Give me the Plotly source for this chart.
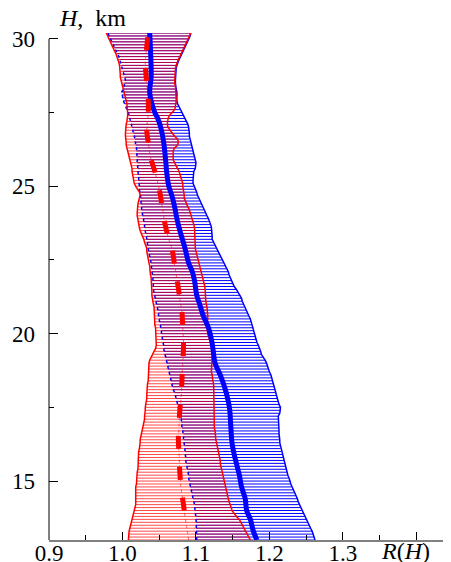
import numpy as np
import plotly.graph_objects as go

# Sampling heights of the hatch lines (km)
H = np.round(np.arange(13.0, 30.25, 0.1), 1)

# Red band: lower / upper bounds of R(H)
red_lo = [1.008,1.008,1.009,1.009,1.010,1.011,1.012,1.013,1.015,1.016,
          1.017,1.017,1.018,1.018,1.018,1.017,1.018,1.018,1.018,1.019,
          1.019,1.020,1.020,1.020,1.021,1.021,1.021,1.021,1.022,1.022,
          1.022,1.023,1.024,1.024,1.024,1.025,1.025,1.026,1.028,1.028,
          1.029,1.030,1.030,1.031,1.031,1.031,1.032,1.032,1.033,1.033,
          1.033,1.034,1.034,1.034,1.035,1.035,1.035,1.035,1.036,1.036,
          1.036,1.037,1.039,1.042,1.044,1.045,1.046,1.046,1.046,1.046,
          1.045,1.045,1.045,1.044,1.044,1.044,1.044,1.044,1.044,1.043,
          1.042,1.041,1.041,1.040,1.040,1.040,1.040,1.039,1.039,1.039,
          1.038,1.038,1.038,1.037,1.036,1.035,1.034,1.034,1.033,1.033,
          1.031,1.030,1.029,1.027,1.025,1.024,1.023,1.022,1.021,1.020,
          1.020,1.020,1.020,1.020,1.021,1.022,1.023,1.024,1.023,1.020,
          1.018,1.016,1.015,1.015,1.014,1.013,1.013,1.012,1.011,1.010,
          1.009,1.008,1.007,1.006,1.005,1.005,1.004,1.004,1.004,1.004,
          1.004,1.005,1.006,1.007,1.007,1.007,1.007,1.006,1.006,1.005,
          1.004,1.003,1.002,1.001,1.000,0.999,0.998,0.997,0.997,0.997,
          0.997,0.996,0.995,0.994,0.993,0.991,0.989,0.987,0.985,0.983,
          0.981,0.980,0.978]
red_hi = [1.174,1.172,1.170,1.168,1.166,1.164,1.162,1.159,1.155,1.152,
          1.149,1.148,1.146,1.145,1.144,1.143,1.142,1.141,1.140,1.139,
          1.138,1.137,1.136,1.135,1.135,1.134,1.133,1.133,1.132,1.131,
          1.130,1.129,1.129,1.128,1.127,1.127,1.126,1.126,1.125,1.125,
          1.125,1.124,1.124,1.124,1.124,1.124,1.124,1.124,1.124,1.125,
          1.125,1.125,1.125,1.124,1.123,1.123,1.122,1.121,1.121,1.121,
          1.121,1.122,1.122,1.123,1.123,1.123,1.122,1.120,1.118,1.117,
          1.116,1.115,1.115,1.115,1.116,1.116,1.116,1.116,1.115,1.115,
          1.114,1.113,1.113,1.113,1.113,1.113,1.112,1.111,1.110,1.109,
          1.108,1.107,1.106,1.105,1.103,1.102,1.101,1.100,1.099,1.099,
          1.099,1.099,1.099,1.099,1.099,1.099,1.098,1.097,1.096,1.094,
          1.093,1.092,1.091,1.089,1.087,1.085,1.084,1.084,1.083,1.083,
          1.082,1.082,1.081,1.080,1.079,1.077,1.075,1.073,1.071,1.069,
          1.069,1.069,1.069,1.071,1.075,1.076,1.075,1.071,1.068,1.065,
          1.062,1.061,1.061,1.062,1.064,1.067,1.071,1.072,1.073,1.073,
          1.073,1.073,1.072,1.072,1.072,1.071,1.071,1.071,1.071,1.071,
          1.072,1.073,1.074,1.076,1.078,1.080,1.082,1.084,1.086,1.088,
          1.090,1.091,1.093]

# Blue band: lower / upper bounds of R(H)
blue_lo = [1.101,1.101,1.101,1.100,1.100,1.100,1.100,1.100,1.100,1.099,
           1.099,1.098,1.098,1.097,1.096,1.095,1.094,1.093,1.092,1.091,
           1.091,1.090,1.090,1.089,1.088,1.088,1.087,1.086,1.086,1.085,
           1.085,1.085,1.084,1.084,1.083,1.083,1.083,1.082,1.081,1.081,
           1.080,1.080,1.079,1.078,1.077,1.076,1.075,1.074,1.073,1.072,
           1.071,1.069,1.068,1.067,1.066,1.065,1.064,1.063,1.062,1.061,
           1.060,1.059,1.058,1.057,1.057,1.056,1.056,1.055,1.055,1.054,
           1.053,1.053,1.052,1.051,1.051,1.050,1.049,1.049,1.048,1.047,
           1.046,1.045,1.044,1.043,1.043,1.042,1.042,1.042,1.041,1.041,
           1.041,1.040,1.040,1.039,1.039,1.038,1.037,1.036,1.035,1.035,
           1.034,1.034,1.033,1.033,1.032,1.031,1.030,1.030,1.029,1.028,
           1.027,1.027,1.026,1.026,1.025,1.025,1.025,1.024,1.024,1.023,
           1.023,1.022,1.022,1.022,1.021,1.021,1.021,1.020,1.020,1.020,
           1.020,1.019,1.019,1.019,1.018,1.018,1.017,1.016,1.015,1.014,
           1.013,1.012,1.011,1.010,1.009,1.008,1.006,1.005,1.003,1.001,
           1.000,0.999,0.999,1.001,1.002,1.003,1.004,1.003,1.002,1.001,
           1.000,0.999,0.998,0.997,0.995,0.993,0.991,0.989,0.987,0.985,
           0.983,0.981,0.980]
blue_hi = [1.262,1.261,1.259,1.258,1.256,1.254,1.252,1.250,1.248,1.246,
           1.244,1.242,1.240,1.239,1.238,1.236,1.234,1.232,1.230,1.229,
           1.228,1.226,1.225,1.224,1.223,1.222,1.221,1.220,1.219,1.217,
           1.216,1.215,1.215,1.214,1.214,1.213,1.213,1.213,1.213,1.213,
           1.212,1.212,1.212,1.214,1.215,1.215,1.213,1.212,1.211,1.210,
           1.209,1.208,1.207,1.206,1.204,1.203,1.202,1.200,1.199,1.198,
           1.196,1.194,1.191,1.189,1.188,1.187,1.185,1.183,1.182,1.181,
           1.180,1.179,1.178,1.176,1.175,1.174,1.172,1.170,1.168,1.166,
           1.165,1.163,1.162,1.160,1.157,1.155,1.152,1.150,1.148,1.146,
           1.145,1.144,1.142,1.140,1.138,1.136,1.134,1.132,1.130,1.128,
           1.126,1.123,1.122,1.122,1.122,1.122,1.121,1.120,1.119,1.117,
           1.115,1.113,1.111,1.109,1.107,1.105,1.104,1.102,1.101,1.099,
           1.097,1.096,1.096,1.096,1.097,1.097,1.099,1.100,1.100,1.099,
           1.098,1.097,1.096,1.095,1.094,1.092,1.091,1.091,1.091,1.091,
           1.090,1.089,1.087,1.085,1.083,1.081,1.078,1.076,1.075,1.074,
           1.074,1.075,1.074,1.073,1.072,1.072,1.072,1.072,1.072,1.073,
           1.073,1.074,1.075,1.077,1.079,1.081,1.083,1.085,1.087,1.089,
           1.091,1.092,1.093]

# Blue mean profile (thick solid line)
blue_mid_h = [13.0,13.3,13.7,14.0,14.4,14.8,15.2,15.5,15.9,16.3,16.6,17.0,17.4,17.7,
              18.1,18.6,19.0,19.5,19.8,20.2,20.6,21.0,21.3,21.8,22.1,22.4,22.9,23.5,
              23.9,24.3,24.7,25.0,25.5,25.8,26.5,27.0,27.3,27.5,27.8,28.2,28.7,29.0,
              29.7,30.2]
blue_mid = [1.183,1.178,1.174,1.169,1.167,1.162,1.159,1.156,1.152,1.149,1.148,1.147,
            1.146,1.144,1.140,1.133,1.126,1.123,1.121,1.117,1.110,1.105,1.101,1.098,
            1.095,1.090,1.085,1.078,1.074,1.071,1.067,1.063,1.060,1.059,1.056,1.052,
            1.048,1.044,1.040,1.037,1.039,1.039,1.038,1.037]

# Red mean profile (thick dashed line)
red_mid_h = [13.0,13.5,14.0,14.2,14.7,15.3,15.9,16.4,16.9,17.4,17.9,18.5,19.0,19.6,
             20.2,20.7,21.2,21.7,22.3,22.8,23.2,23.7,24.3,24.9,25.5,26.0,26.5,26.9,
             27.5,28.0,28.5,29.2,29.5,30.2]
red_mid = [1.090,1.087,1.084,1.083,1.080,1.078,1.077,1.076,1.077,1.078,1.080,1.081,
           1.082,1.083,1.082,1.081,1.078,1.075,1.071,1.068,1.063,1.058,1.054,1.050,
           1.044,1.038,1.035,1.033,1.035,1.035,1.033,1.031,1.032,1.035]

assert len(H) == len(red_lo) == len(red_hi) == len(blue_lo) == len(blue_hi)

xt_vals = [0.9, 1.0, 1.1, 1.2, 1.3, 1.4]
xt_text = ["0.9", "1.0", "1.1", "1.2", "1.3", ""]
yt_vals = [15, 20, 25, 30]
yt_text = ["15", "20", "25", "30"]


def hatch(lo, hi):
    xs, ys = [], []
    for h, a, b in zip(H, lo, hi):
        xs += [a, b, None]
        ys += [h, h, None]
    return xs, ys

fig = go.Figure()

bx, by = hatch(blue_lo, blue_hi)
fig.add_trace(go.Scatter(x=bx, y=by, mode="lines",
                         line=dict(color="rgba(0,0,255,1)", width=1), hoverinfo="skip"))
rx, ry = hatch(red_lo, red_hi)
fig.add_trace(go.Scatter(x=rx, y=ry, mode="lines",
                         line=dict(color="rgba(255,0,0,0.72)", width=1), hoverinfo="skip"))

# band outlines
fig.add_trace(go.Scatter(x=blue_hi, y=H, mode="lines", line=dict(color="#0000ff", width=1.5)))
fig.add_trace(go.Scatter(x=blue_lo, y=H, mode="lines", line=dict(color="#0000ff", width=1.5, dash="dot")))
fig.add_trace(go.Scatter(x=red_lo, y=H, mode="lines", line=dict(color="#ff0000", width=1.5)))
fig.add_trace(go.Scatter(x=red_hi, y=H, mode="lines", line=dict(color="#ff0000", width=1.5)))

# thin red centre line
fig.add_trace(go.Scatter(x=red_mid, y=red_mid_h, mode="lines",
                         line=dict(color="rgba(255,0,0,0.6)", width=1, dash="dot", shape="spline")))
# blue thick mean
fig.add_trace(go.Scatter(x=blue_mid, y=blue_mid_h, mode="lines",
                         line=dict(color="#0000ff", width=5, shape="spline")))
# red thick dashed mean (from 14 km upward)
sel = [i for i, h in enumerate(red_mid_h) if h >= 14.0]
fig.add_trace(go.Scatter(x=[red_mid[i] for i in sel], y=[red_mid_h[i] for i in sel], mode="lines",
                         line=dict(color="#ff0000", width=5, dash="13px,18px", shape="spline")))

font = dict(family="Liberation Serif", size=23, color="black")
afont = dict(family="Liberation Serif", size=24, color="black")
# the page body has an 8px margin, so the figure is 8px smaller on each leading side
fig.update_layout(
    width=443, height=554,
    margin=dict(l=41, r=0, t=25, b=22, autoexpand=False),
    paper_bgcolor="white", plot_bgcolor="white",
    showlegend=False,
    font=font,
    xaxis=dict(range=[0.9, 1.447], tickvals=xt_vals, ticktext=xt_text,
               ticks="inside", ticklen=8, tickcolor="black", tickwidth=1,
               showgrid=False, zeroline=False, automargin=False,
               showline=True, linecolor="#808080", linewidth=2,
               ticklabelstandoff=-9,
               minor=dict(ticks="inside", ticklen=5, dtick=0.05, tick0=0.9,
                          tickcolor="black", showgrid=False),
               tickfont=font),
    yaxis=dict(range=[13, 30.2], tickvals=yt_vals, ticktext=yt_text,
               ticks="inside", ticklen=9, tickcolor="black", tickwidth=1,
               showgrid=False, zeroline=False, showline=False, automargin=False,
               ticklabelstandoff=13,
               minor=dict(ticks="inside", ticklen=5, dtick=2.5, tick0=0,
                          tickcolor="black", showgrid=False),
               tickfont=font),
    shapes=[dict(type="line", xref="paper", yref="paper", x0=0, x1=0,
                 y0=0, y1=(30 - 13) / (30.2 - 13), line=dict(color="black", width=1))],
    annotations=[
        dict(text="<i>H</i>,  km", xref="paper", yref="paper", x=0.02, y=1.03,
             xanchor="left", yanchor="middle", showarrow=False, font=afont),
        dict(text="<i>R</i>(<i>H</i>)", xref="paper", yref="paper", x=0.888, y=-0.022,
             xanchor="center", yanchor="middle", showarrow=False, font=afont),
    ],
)

fig.write_html("out.html")
